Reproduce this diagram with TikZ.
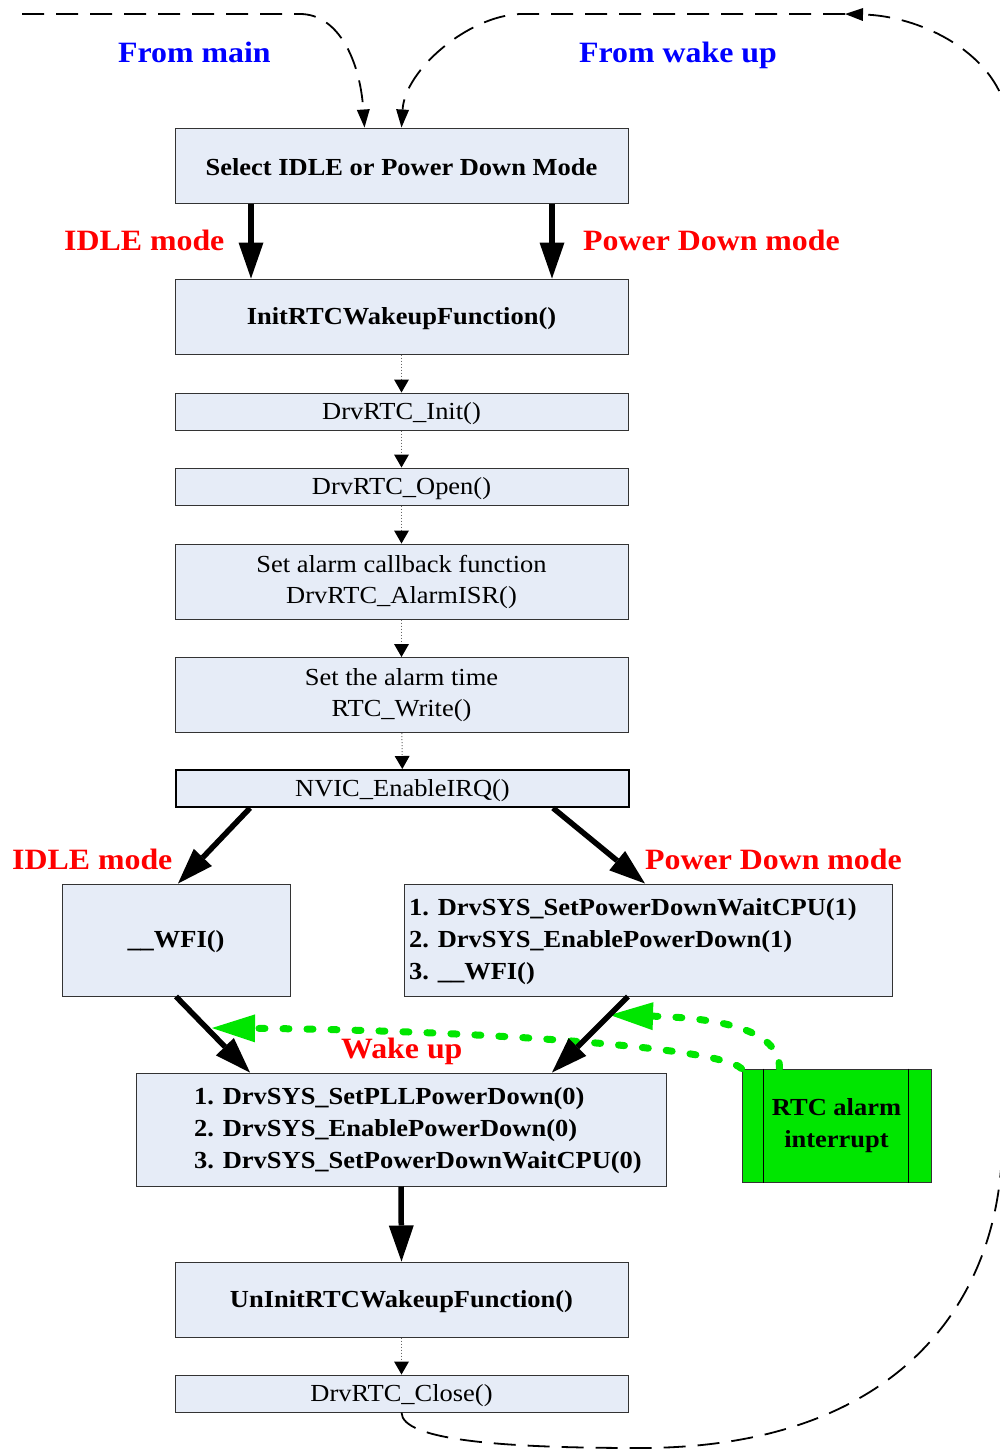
\documentclass[tikz,border=0pt]{standalone}
\usepackage{fontspec}
\setmainfont{Liberation Serif}[FakeStretch=1.08]
\usetikzlibrary{arrows.meta}
\definecolor{boxfill}{RGB}{230,236,247}
\definecolor{alarmgreen}{RGB}{0,230,0}
\definecolor{flowred}{RGB}{255,0,0}
\definecolor{flowblue}{RGB}{0,0,255}
\begin{document}
\begin{tikzpicture}[x=1pt,y=-1pt,
  plain/.style={font=\fontsize{24.5}{32}\selectfont},
  heavy/.style={font=\fontsize{24.5}{32}\selectfont\bfseries},
  procbox/.style={draw=black!80, line width=1pt, fill=boxfill, inner sep=0pt, align=center,
    execute at begin node={\rule{0pt}{21pt}}},
  wide/.style={minimum width=453pt, minimum height=#1},
  modelabel/.style={font=\fontsize{29.5}{34}\selectfont\bfseries, text=flowred, anchor=base west, inner sep=0pt},
  sourcelabel/.style={modelabel, text=flowblue},
  bigflow/.style={line width=5.5pt, -{Triangle[length=36pt,width=25pt,line width=0pt]}},
  subcall/.style={draw=black!60, line width=1pt, dotted, -{Triangle[length=13pt,width=15pt,color=black,line width=0pt]}},
  loopback/.style={line width=1.8pt, dash pattern=on 22pt off 12pt, -{Triangle[length=18pt,width=13pt,line width=0pt]}},
  wakeflow/.style={draw=alarmgreen, line width=7pt, line cap=round, dash pattern=on 6pt off 18pt, -{Triangle[length=43pt,width=28pt,line width=0pt,color=alarmgreen]}},
]
\useasboundingbox (0,0) rectangle (1000,1454);
\clip (0,0) rectangle (1000,1454);

% main column of steps
\node[procbox, heavy, wide=75pt] (sel) at (401.5,165.5) {Select IDLE or Power Down Mode};
\node[procbox, heavy, wide=75pt] (init) at (401.5,316.5) {InitRTCWakeupFunction()};
\node[procbox, plain, wide=37pt] (rinit) at (401.5,411.5) {DrvRTC\_Init()};
\node[procbox, plain, wide=37pt] (ropen) at (401.5,486.5) {DrvRTC\_Open()};
\node[procbox, plain, wide=75pt, font=\fontsize{24.5}{31}\selectfont] (cb) at (401.5,581.5) {Set alarm callback function\\DrvRTC\_AlarmISR()};
\node[procbox, plain, wide=75pt, font=\fontsize{24.5}{31}\selectfont] (alarm) at (401.5,695) {Set the alarm time\\RTC\_Write()};
\node[procbox, plain, wide=37pt, draw=black, line width=2pt] (nvic) at (402.5,788.5) {NVIC\_EnableIRQ()};

% the two sleep branches
\node[procbox, heavy, minimum width=228pt, minimum height=112pt] (wfi) at (176,940) {\_\_WFI()};
\node[procbox, minimum width=488pt, minimum height=112pt] (pd) at (648,940) {};
\node[heavy, align=left, anchor=west, inner sep=0pt] (pdtext) at (409,942)
  {1. DrvSYS\_SetPowerDownWaitCPU(1)\\2. DrvSYS\_EnablePowerDown(1)\\3. \_\_WFI()};

% resume steps
\node[procbox, minimum width=530pt, minimum height=113pt] (resume) at (401,1129.5) {};
\node[heavy, align=left, anchor=west, inner sep=0pt] (resumetext) at (194,1131)
  {1. DrvSYS\_SetPLLPowerDown(0)\\2. DrvSYS\_EnablePowerDown(0)\\3. DrvSYS\_SetPowerDownWaitCPU(0)};
\node[procbox, heavy, wide=75pt] (uninit) at (401.5,1299.5) {UnInitRTCWakeupFunction()};
\node[procbox, plain, wide=37pt] (close) at (401.5,1393.5) {DrvRTC\_Close()};

% interrupt source
\node[procbox, heavy, fill=alarmgreen, minimum width=189pt, minimum height=113pt] (rtc) at (836.5,1125.5) {RTC alarm\\interrupt};
\draw[line width=1pt] ([xshift=22pt]rtc.north west) -- ([xshift=22pt]rtc.south west);
\draw[line width=1pt] ([xshift=-23pt]rtc.north east) -- ([xshift=-23pt]rtc.south east);

% labels
\node[sourcelabel] (lmain) at (118,62) {From main};
\node[sourcelabel] (lwake) at (579,62) {From wake up};
\node[modelabel] (idleA) at (64,250) {IDLE mode};
\node[modelabel] (pdA) at (583,250) {Power Down mode};
\node[modelabel] (idleB) at (12,869) {IDLE mode};
\node[modelabel] (pdB) at (645,869) {Power Down mode};
\node[modelabel] (lwakeup) at (341,1058) {Wake up};

% wake-up signals from the RTC
\coordinate (idlewake) at (212,1028);
\coordinate (pdwake) at (610,1015);
\draw[wakeflow] (rtc.north west) .. controls (715,1045) and (450,1030) .. (idlewake);
\draw[wakeflow] ([xshift=38pt]rtc.north west) .. controls (780,1030) and (720,1018) .. (pdwake);

% flow arrows
\draw[bigflow] ([xshift=-150.5pt]sel.south) -- ([xshift=-150.5pt]init.north);
\draw[bigflow] ([xshift=150.5pt]sel.south) -- ([xshift=150.5pt]init.north);
\draw[subcall] (init) -- (rinit);
\draw[subcall] (rinit) -- (ropen);
\draw[subcall] (ropen) -- (cb);
\draw[subcall] (cb) -- (alarm);
\draw[subcall] (alarm) -- (nvic);
\draw[bigflow] ([xshift=-152.5pt]nvic.south) -- ([xshift=2pt]wfi.north);
\draw[bigflow] ([xshift=150.5pt]nvic.south) -- ([xshift=-3pt]pd.north);
\draw[bigflow] (wfi.south) -- ([xshift=-151pt]resume.north);
\draw[bigflow] ([xshift=-20pt]pd.south) -- ([xshift=151pt]resume.north);
\draw[bigflow] (resume.south) -- (uninit.north);
\draw[subcall] (uninit) -- (close);

% entry from main and the loop back round
\coordinate (mainentry) at (22,14);
\coordinate (loopturn) at (845,14);
\draw[loopback] (mainentry) -- (300,14) .. controls (338,14) and (360,60) .. ([xshift=-37pt]sel.north);
\draw[loopback] (close.south) .. controls (402,1440) and (500,1448) .. (640,1448)
  .. controls (900,1448) and (998,1300) .. (1002,1150)
  .. controls (1020,800) and (1020,400) .. (1003,100)
  .. controls (985,50) and (920,16) .. (loopturn);
\draw[loopback] (loopturn) -- (520,14) .. controls (468,16) and (405,70) .. (sel.north);
\end{tikzpicture}
\end{document}
